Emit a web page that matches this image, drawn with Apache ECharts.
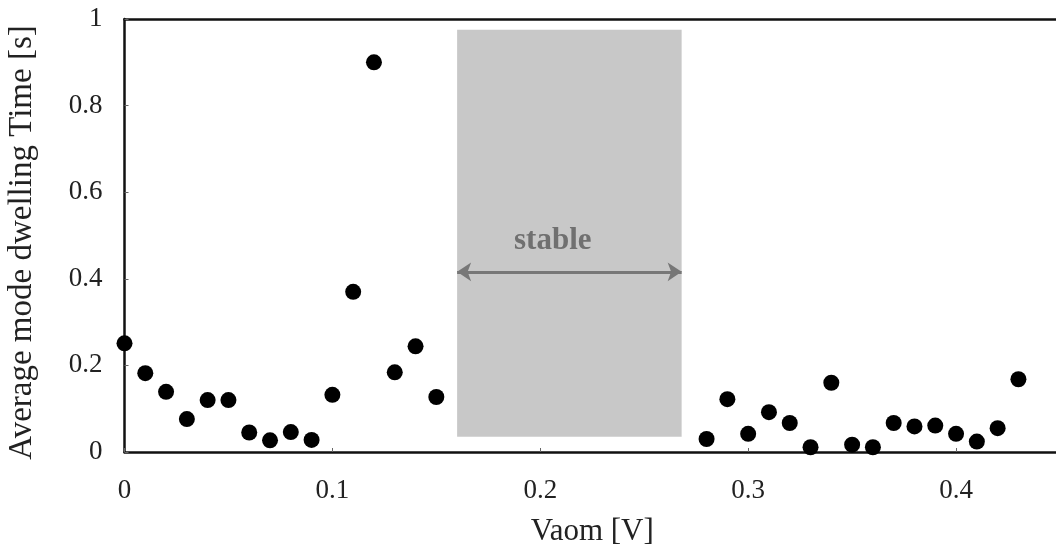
<!DOCTYPE html>
<html>
<head>
<meta charset="utf-8">
<script src="https://cdn.jsdelivr.net/npm/echarts@6/dist/echarts.min.js"></script>
<style>
  html, body { margin: 0; padding: 0; background: #fff; }
  #chart { width: 1056px; height: 551px; }
</style>
</head>
<body>
<div id="chart"></div>
<script>
// bias voltage Vaom [V]
var vaom = [0, 0.01, 0.02, 0.03, 0.04, 0.05, 0.06, 0.07, 0.08, 0.09,
            0.10, 0.11, 0.12, 0.13, 0.14, 0.15,
            0.28, 0.29, 0.30, 0.31, 0.32, 0.33, 0.34, 0.35, 0.36, 0.37,
            0.38, 0.39, 0.40, 0.41, 0.42, 0.43]
// average mode dwelling time [s]
var dwell = [0.251, 0.182, 0.139, 0.076, 0.12, 0.12, 0.045, 0.027, 0.046, 0.028,
             0.132, 0.37, 0.90, 0.184, 0.244, 0.127,
             0.030, 0.122, 0.042, 0.092, 0.067, 0.011, 0.160, 0.017, 0.011, 0.067,
             0.059, 0.061, 0.042, 0.024, 0.055, 0.168]

// stable region (shaded) and its arrow
var stableX = [0.160, 0.268]
var stableY = [0.035, 0.975]
var arrowY = 0.416
var stableLabelAt = [0.206, 0.487]

var serif = "'Liberation Serif', 'DejaVu Serif', serif"

var points = []
for (var i = 0; i < vaom.length; i++) {
    points.push([vaom[i], dwell[i]])
}

var chart = echarts.init(document.getElementById('chart'))
chart.setOption({
    animation: false,
    grid: {
        left: 124.5,
        right: -4,
        top: 19,
        bottom: 99,
        outerBoundsMode: 'none',
        containLabel: false
    },
    xAxis: [
        {
            type: 'value',
            min: 0,
            max: 0.45,
            interval: 0.1,
            name: 'Vaom [V]',
            nameLocation: 'middle',
            nameGap: 64,
            nameTextStyle: { fontFamily: serif, fontSize: 31, color: '#222' },
            axisLine: { show: true, lineStyle: { color: '#111', width: 2.5 } },
            axisTick: { show: true, inside: true, length: 4, lineStyle: { color: '#666', width: 1 } },
            axisLabel: { margin: 25, fontFamily: serif, fontSize: 27, color: '#222', showMaxLabel: false },
            splitLine: { show: false }
        },
        {
            // top frame line only
            type: 'value',
            position: 'top',
            min: 0,
            max: 0.45,
            axisLine: { show: true, lineStyle: { color: '#111', width: 2.5 } },
            axisTick: { show: false },
            axisLabel: { show: false },
            splitLine: { show: false }
        }
    ],
    yAxis: {
        type: 'value',
        min: 0,
        max: 1,
        interval: 0.2,
        name: 'Average mode dwelling Time [s]',
        nameLocation: 'middle',
        nameGap: 86,
        nameTextStyle: { fontFamily: serif, fontSize: 33, color: '#222', padding: [0, 14, 0, 0] },
        axisLine: { show: true, lineStyle: { color: '#111', width: 2.5 } },
        axisTick: { show: true, inside: true, length: 4, lineStyle: { color: '#666', width: 1 } },
        axisLabel: { margin: 22, fontFamily: serif, fontSize: 27, color: '#222' },
        splitLine: { show: false }
    },
    series: [
        {
            type: 'scatter',
            data: points,
            symbol: 'circle',
            symbolSize: 16,
            itemStyle: { color: '#000', opacity: 1 },
            z: 5,
            markArea: {
                silent: true,
                itemStyle: { color: '#c8c8c8' },
                data: [[
                    { coord: [stableX[0], stableY[1]] },
                    { coord: [stableX[1], stableY[0]] }
                ]]
            },
            markLine: {
                silent: true,
                symbol: ['arrow', 'arrow'],
                symbolSize: [14, 14],
                lineStyle: { color: '#777', width: 3, type: 'solid' },
                itemStyle: { color: '#333' },
                label: { show: false },
                data: [[
                    { coord: [stableX[0], arrowY] },
                    { coord: [stableX[1], arrowY] }
                ]]
            },
            markPoint: {
                silent: true,
                symbol: 'circle',
                symbolSize: 0,
                label: {
                    show: true,
                    position: 'inside',
                    formatter: 'stable',
                    fontFamily: serif,
                    fontWeight: 'bold',
                    fontSize: 31,
                    color: '#707070'
                },
                data: [{ coord: stableLabelAt }]
            }
        }
    ]
})
</script>
</body>
</html>
